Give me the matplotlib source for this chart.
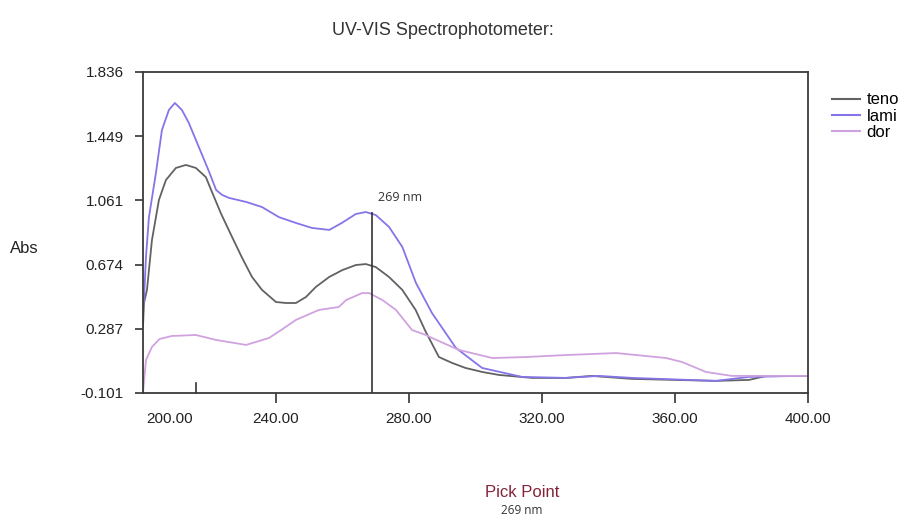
import matplotlib
matplotlib.use("Agg")
import matplotlib.pyplot as plt
import matplotlib.transforms as mtransforms
from matplotlib.lines import Line2D

plt.rcParams['font.family'] = ['Liberation Sans', 'DejaVu Sans']

# Absorbance spectra (wavelength in nm, absorbance)
teno_nm = [200.0, 200.3, 201.2, 202.7, 204.8, 206.9, 209.9, 212.9, 215.9, 218.9, 220.5,
           223.5, 226.8, 229.8, 232.8, 235.8, 240.0, 243.0, 246.0, 249.0, 252.0,
           256.0, 260.0, 264.0, 267.0, 270.0, 274.0, 278.0, 282.0, 285.0, 289.0,
           293.0, 297.0, 302.0, 307.0, 317.0, 327.2, 335.0, 347.1, 372.3, 382.3,
           387.4, 397.3, 400.0]
teno_abs = [0.30, 0.442, 0.521, 0.822, 1.064, 1.184, 1.257, 1.275, 1.257, 1.202, 1.124,
            0.980, 0.840, 0.715, 0.599, 0.521, 0.448, 0.442, 0.442, 0.478, 0.539,
            0.599, 0.641, 0.671, 0.677, 0.659, 0.599, 0.521, 0.400, 0.270, 0.116,
            0.080, 0.050, 0.026, 0.008, -0.010, -0.010, 0.002, -0.016, -0.028, -0.022,
            0.002, 0.002, 0.002]

lami_nm = [200.0, 200.3, 200.9, 201.8, 203.9, 205.7, 207.8, 209.6, 211.7, 213.8, 216.8,
           219.9, 222.0, 223.8, 225.9, 231.0, 235.8, 240.9, 246.0, 250.8, 256.0,
           259.8, 264.0, 267.0, 270.0, 274.0, 278.0, 282.1, 286.9, 294.1, 302.0,
           314.0, 327.2, 337.1, 347.1, 372.3, 382.3, 397.3, 400.0]
lami_abs = [0.40, 0.460, 0.720, 0.961, 1.227, 1.486, 1.607, 1.649, 1.607, 1.528, 1.383,
            1.233, 1.124, 1.094, 1.076, 1.052, 1.021, 0.960, 0.925, 0.895, 0.883,
            0.925, 0.979, 0.991, 0.973, 0.901, 0.780, 0.563, 0.382, 0.171, 0.050,
            -0.004, -0.010, 0.002, -0.010, -0.028, -0.004, 0.002, 0.002]

dor_nm = [200.0, 200.9, 202.7, 205.0, 208.7, 215.9, 222.0, 231.0, 237.9, 242.0, 246.0,
          252.9, 258.9, 261.1, 265.9, 268.0, 272.0, 276.1, 280.9, 285.1, 286.9,
          295.0, 305.0, 315.2, 327.2, 342.3, 357.3, 362.1, 369.3, 377.1, 387.4,
          397.3, 400.0]
dor_abs = [-0.101, 0.098, 0.177, 0.225, 0.243, 0.249, 0.219, 0.189, 0.231, 0.285, 0.340,
           0.400, 0.418, 0.460, 0.502, 0.502, 0.460, 0.400, 0.279, 0.249, 0.231,
           0.159, 0.110, 0.116, 0.128, 0.140, 0.110, 0.086, 0.026, 0.002, 0.002,
           0.002, 0.002]

series_names = ['teno', 'lami', 'dor']
series_colors = ['#626262', '#8475e8', '#d0a2e0']

y_ticks = [-0.101, 0.287, 0.674, 1.061, 1.449, 1.836]
y_tick_labels = ['-0.101', '0.287', '0.674', '1.061', '1.449', '1.836']
x_ticks = [240, 280, 320, 360, 400]
x_tick_labels = ['240.00', '280.00', '320.00', '360.00', '400.00']
first_x_label = '200.00'
pick_nm = 269
pick_abs = 0.991

fig = plt.figure(figsize=(9.13, 5.19), dpi=100)
ax = fig.add_axes([0.1566, 0.2428, 0.7284, 0.6185])

for nm, ab, col in zip([teno_nm, lami_nm, dor_nm], [teno_abs, lami_abs, dor_abs], series_colors):
    ax.plot(nm, ab, color=col, lw=1.3, solid_joinstyle='round', solid_capstyle='round')

ax.set_xlim(200, 400)
ax.set_ylim(-0.101, 1.836)

ax.set_yticks(y_ticks)
ax.set_yticklabels(y_tick_labels)
ax.set_xticks(x_ticks)
ax.set_xticklabels(x_tick_labels)
ax.tick_params(axis='y', direction='out', length=6, width=1.2, color='#333333',
               labelsize=11, labelcolor='#222222', pad=8)
ax.tick_params(axis='x', direction='out', length=7, width=1.2, color='#333333',
               labelsize=11, labelcolor='#222222', pad=6.5)

# first wavelength label sits to the right of the axis corner
xblend = mtransforms.blended_transform_factory(ax.transData, ax.transAxes)
off = mtransforms.ScaledTranslation(0.27, -(7 + 6.5) / 72, fig.dpi_scale_trans)
ax.text(200, 0, first_x_label, transform=xblend + off, ha='center', va='top',
        fontsize=11, color='#222222')

# small inward tick on the wavelength axis
ax.plot([216, 216], [0, 0.03], transform=xblend, color='#333333', lw=1.2, clip_on=False)

for sp in ax.spines.values():
    sp.set_color('#3a3a3a')
    sp.set_linewidth(1.3)

# pick point marker
ax.vlines(pick_nm, -0.101, pick_abs, color='#333333', lw=1.2)
ax.text(pick_nm + 1.8, pick_abs + 0.09, f'{pick_nm} nm', fontsize=9, color='#333333',
        ha='left', va='center', family=['Open Sans', 'DejaVu Sans'])

fig.text(0.485, 0.942, 'UV-VIS Spectrophotometer:', ha='center', va='center',
         fontsize=13, color='#333333')
fig.text(0.011, 0.522, 'Abs', ha='left', va='center', fontsize=12, color='#222222')

handles = [Line2D([0], [0], color=c, lw=1.5) for c in series_colors]
fig.legend(handles, series_names, loc='upper left', bbox_to_anchor=(0.911, 0.822),
           frameon=False, fontsize=12, handlelength=1.7, handletextpad=0.4,
           labelspacing=0.08, borderaxespad=0, borderpad=0)

fig.text(0.572, 0.052, 'Pick Point', ha='center', va='center', fontsize=12, color='#84243a')
fig.text(0.572, 0.016, f'{pick_nm} nm', ha='center', va='center', fontsize=8.5, color='#333333',
         family=['Open Sans', 'DejaVu Sans'])

fig.savefig('out.png', dpi=100)
